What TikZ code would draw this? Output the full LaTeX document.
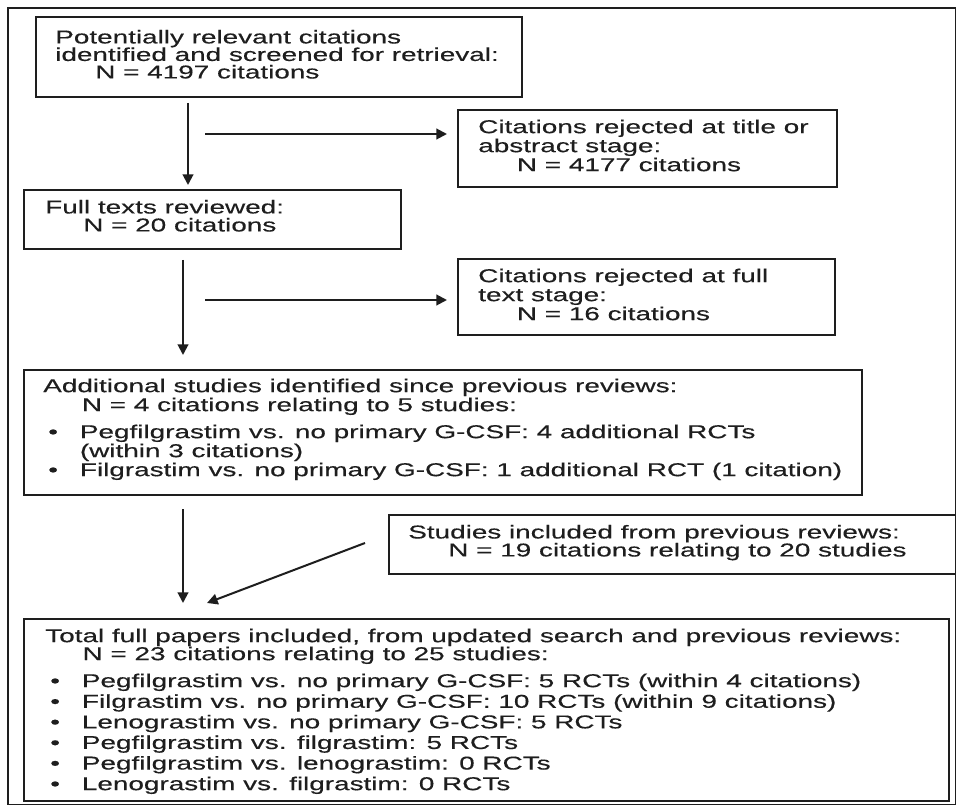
\documentclass[tikz,border=0pt]{standalone}
\usepackage{fontspec}
\setmainfont{Liberation Sans}
% wide sans face used for all box texts
\newfontfamily\widesans{Liberation Sans}[FakeStretch=1.5,FakeBold=0.3]
\usetikzlibrary{arrows.meta}
\definecolor{ink}{HTML}{1E1E1E}
% bullet with hanging indent
\newcommand\bul{\makebox[27.5pt][l]{\hspace{3.75pt}\textbullet}}
\begin{document}
\begin{tikzpicture}[x=0.75pt,y=-0.75pt,
  frame/.style={draw=ink, line width=1.5pt, rectangle, anchor=north west, inner sep=0pt},
  copy/.style={anchor=north west, inner sep=0pt, align=left, text=ink,
    font=\widesans\fontsize{13.95}{14.25}\selectfont},
  flow/.style={draw=ink, line width=1.5pt, -{Triangle[length=8pt,width=8pt]}}]
\useasboundingbox (0,0) rectangle (956,805);
\clip (0,0) rectangle (956,805);
\fill[white] (0,0) rectangle (956,805);

% outer frame
\node[frame, minimum width={948*0.75pt}, minimum height={797*0.75pt}] (outer) at (7,7) {};

% boxes
\node[frame, minimum width={486*0.75pt}, minimum height={80*0.75pt}] (box1) at (35,16) {};
\node[frame, minimum width={377*0.75pt}, minimum height={59*0.75pt}] (box2) at (23,189) {};
\node[frame, minimum width={379*0.75pt}, minimum height={77*0.75pt}] (rej1) at (457,109) {};
\node[frame, minimum width={377*0.75pt}, minimum height={76*0.75pt}] (rej2) at (457,258) {};
\node[frame, minimum width={838*0.75pt}, minimum height={125*0.75pt}] (box3) at (23,369) {};
\node[frame, minimum width={567*0.75pt}, minimum height={59*0.75pt}] (prev) at (388,514) {};
\node[frame, minimum width={925*0.75pt}, minimum height={182*0.75pt}] (final) at (23,618) {};

% texts
\node[copy] (t1) at (55,29.7) {Potentially relevant citations\\[-1.125pt]
  identified and screened for retrieval:\\[-1.125pt]
  \hspace*{30pt}N = 4197 citations};
\node[copy] (t2) at (45,199.7) {Full texts reviewed:\\[-0.75pt]
  \hspace*{28.5pt}N = 20 citations};
\node[copy] (tr1) at (478,119.4) {Citations rejected at title or\\
  abstract stage:\\
  \hspace*{29pt}N = 4177 citations};
\node[copy] (tr2) at (478,268.4) {Citations rejected at full\\
  text stage:\\
  \hspace*{29pt}N = 16 citations};
\node[copy] (t3) at (43,378.4) {Additional studies identified since previous reviews:\\
  \hspace*{29pt}N = 4 citations relating to 5 studies:\\[6pt]
  \bul Pegfilgrastim vs. no primary G-CSF: 4 additional RCTs\\
  \hspace*{27.5pt}(within 3 citations)\\
  \bul Filgrastim vs. no primary G-CSF: 1 additional RCT (1 citation)};
\node[copy] (tp) at (408,524.7) {Studies included from previous reviews:\\[-0.75pt]
  \hspace*{30pt}N = 19 citations relating to 20 studies};
\node[copy] (tf) at (45,628.4) {Total full papers included, from updated search and previous reviews:\\[-0.75pt]
  \hspace*{28pt}N = 23 citations relating to 25 studies:\\[6pt]
  \bul Pegfilgrastim vs. no primary G-CSF: 5 RCTs (within 4 citations)\\[1.2pt]
  \bul Filgrastim vs. no primary G-CSF: 10 RCTs (within 9 citations)\\[1.2pt]
  \bul Lenograstim vs. no primary G-CSF: 5 RCTs\\[1.2pt]
  \bul Pegfilgrastim vs. filgrastim: 5 RCTs\\[1.2pt]
  \bul Pegfilgrastim vs. lenograstim: 0 RCTs\\[1.2pt]
  \bul Lenograstim vs. filgrastim: 0 RCTs};

% connector guides
\coordinate (c1) at (188,0);
\coordinate (c2) at (183,0);
\coordinate (h1) at (205,134);
\coordinate (h2) at (205,300);

% main flow
\draw[flow, shorten <=3.75pt, shorten >=3pt] (box1.south -| c1) -- (box2.north -| c1);
\draw[flow, shorten <=7.5pt, shorten >=10.5pt] (box2.south -| c2) -- (box3.north -| c2);
\draw[flow, shorten <=9.75pt, shorten >=11.25pt] (box3.south -| c2) -- (final.north -| c2);

% exclusions
\draw[flow, shorten >=7.5pt] (h1) -- (h1 -| rej1.west);
\draw[flow, shorten >=7.5pt] (h2) -- (h2 -| rej2.west);

% studies from previous reviews
\draw[flow] ([shift={(-23,-1.5)}]prev.west) -- ([shift={(184,-15)}]final.north west);
\end{tikzpicture}
\end{document}
